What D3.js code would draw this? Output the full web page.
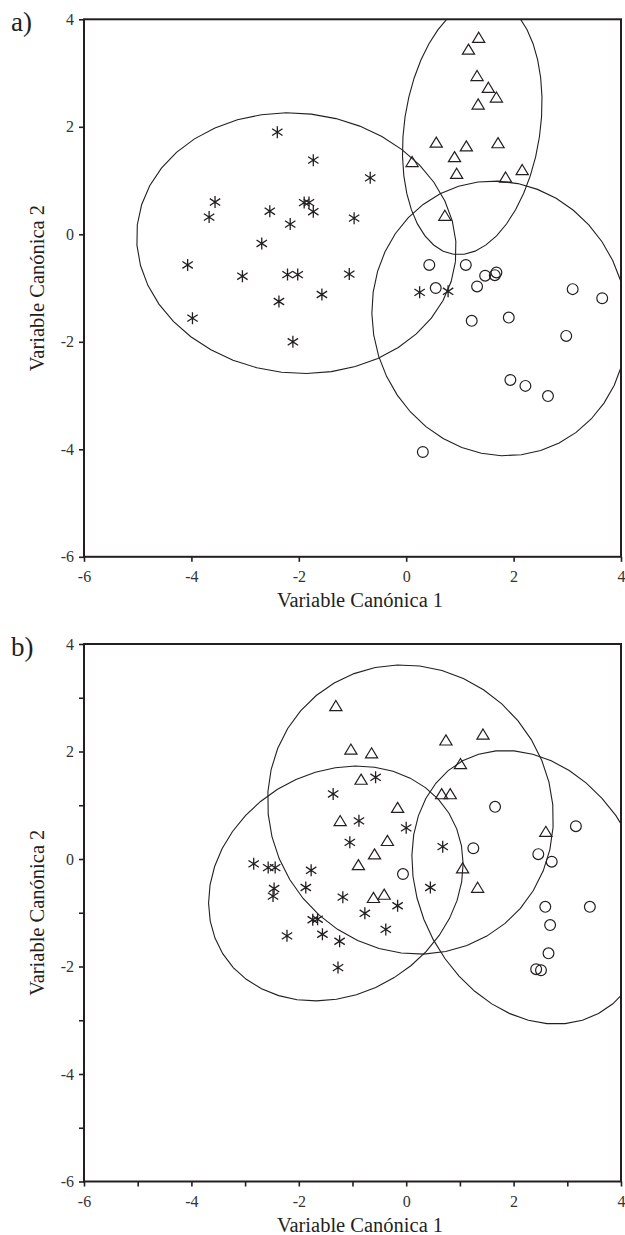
<!DOCTYPE html>
<html>
<head>
<meta charset="UTF-8">
<title>variables canonicas</title>
<script src="https://d3js.org/d3.v7.min.js"></script>
<style>
	body { margin: 0; background: #fff; }
	svg { display: block; font-family: "Liberation Serif", "Times New Roman", serif; }
	.tick line { stroke: #231f20; stroke-width: 1.6; }
</style>
</head>
<body>
<svg id="chart" width="625" height="1235"></svg>

<script type="text/javascript">

// ejes (iguales en los dos paneles)
var axisDomain = [-6, 4];
var tickLabels = [-6, -4, -2, 0, 2, 4];
var minorTicks = [-6, -5, -4, -3, -2, -1, 0, 1, 2, 3, 4];

// panel a) puntos [x, y]
var aStars = [
	[-2.40, 1.90], [-1.73, 1.38], [-0.67, 1.05], [-3.56, 0.60], [-3.67, 0.32],
	[-2.54, 0.43], [-2.16, 0.19], [-1.90, 0.59], [-1.81, 0.59], [-1.73, 0.42],
	[-0.97, 0.30], [-2.69, -0.17], [-4.07, -0.57], [-3.05, -0.78], [-2.21, -0.75],
	[-2.02, -0.75], [-1.06, -0.74], [-2.37, -1.25], [-1.57, -1.12], [-3.98, -1.56],
	[-2.11, -2.00], [0.25, -1.08], [0.78, -1.06]
];
var aTriangles = [
	[1.35, 3.66], [1.16, 3.44], [1.32, 2.95], [1.53, 2.73], [1.68, 2.55],
	[1.34, 2.42], [0.56, 1.71], [1.12, 1.64], [1.71, 1.70], [0.90, 1.44],
	[0.11, 1.35], [0.94, 1.13], [2.16, 1.20], [1.85, 1.06], [0.72, 0.35]
];
var aCircles = [
	[0.43, -0.57], [1.11, -0.57], [1.47, -0.77], [1.68, -0.71], [1.65, -0.76],
	[1.32, -0.97], [0.55, -1.00], [3.10, -1.02], [3.65, -1.19], [1.22, -1.61],
	[1.91, -1.55], [2.98, -1.89], [1.94, -2.71], [2.22, -2.82], [2.64, -3.01],
	[0.31, -4.05]
];
// elipses: [centro x, centro y, semieje a, semieje b, angulo (grados)]
var aEllipses = [
	[-2.045, -0.165, 2.982, 2.417, -6.6],
	[1.23, 2.00, 2.398, 1.265, 81.6],
	[1.74, -1.565, 2.574, 2.36, -72.7]
];

// panel b) puntos [x, y]
var bStars = [
	[-0.57, 1.52], [-1.36, 1.21], [-0.88, 0.71], [0.00, 0.58], [-1.05, 0.31],
	[0.68, 0.23], [-2.84, -0.09], [-2.57, -0.16], [-2.44, -0.16], [-1.77, -0.21],
	[-2.46, -0.55], [-2.48, -0.69], [-1.87, -0.53], [-1.18, -0.71], [-0.16, -0.87],
	[0.45, -0.53], [-0.77, -1.01], [-1.74, -1.13], [-1.65, -1.12], [-0.38, -1.31],
	[-2.22, -1.43], [-1.56, -1.40], [-1.24, -1.53], [-1.27, -2.02]
];
var bTriangles = [
	[-1.31, 2.85], [-1.03, 2.04], [-0.645, 1.97], [-0.84, 1.48], [0.74, 2.21],
	[1.43, 2.32], [1.01, 1.77], [0.66, 1.21], [0.82, 1.21], [-0.16, 0.955],
	[-1.23, 0.71], [-0.35, 0.34], [-0.59, 0.09], [-0.89, -0.11], [-0.61, -0.72],
	[-0.41, -0.66], [1.05, -0.17], [1.33, -0.53], [2.60, 0.51]
];
var bCircles = [
	[1.655, 0.97], [3.16, 0.61], [1.25, 0.20], [2.46, 0.09], [2.71, -0.05],
	[-0.06, -0.28], [2.59, -0.89], [3.42, -0.89], [2.68, -1.23], [2.65, -1.755],
	[2.42, -2.05], [2.51, -2.07]
];
var bEllipses = [
	[0.08, 0.92, 2.754, 2.595, -50.4],
	[-1.31, -0.455, 2.479, 2.061, 31.8],
	[2.315, -0.525, 2.670, 2.057, -61.7]
];

var ink = "#231f20";
var serif = "'Liberation Serif', 'Times New Roman', serif";
var svg = d3.select("#chart");

function styleAxis(s) {
	s.select(".domain").remove();
	s.attr("font-family", serif).attr("font-size", 16);
	s.selectAll(".tick text")
		.attr("font-family", serif)
		.attr("font-size", 16)
		.attr("fill", "#333");
}

function drawPanel(id, top, label, stars, triangles, circles, ellipses, ticks) {
	var left = 84, right = 621, bottom = top + 537.5;

	var x = d3.scaleLinear().domain(axisDomain).range([left, right]);
	var y = d3.scaleLinear().domain(axisDomain).range([bottom, top]);

	var g = svg.append("g").attr("id", id);

	g.append("clipPath").attr("id", id + "-clip")
		.append("rect")
		.attr("x", left).attr("y", top)
		.attr("width", right - left).attr("height", bottom - top);

	// ejes
	g.append("g")
		.attr("transform", "translate(0," + bottom + ")")
		.call(d3.axisBottom(x).tickValues(ticks).tickSize(5).tickSizeOuter(0).tickPadding(9)
			.tickFormat(function(d) { return d % 2 == 0 ? d : ""; }))
		.call(styleAxis);

	g.append("g")
		.attr("transform", "translate(" + left + ",0)")
		.call(d3.axisLeft(y).tickValues(ticks).tickSize(5).tickSizeOuter(0).tickPadding(5)
			.tickFormat(function(d) { return d % 2 == 0 ? d : ""; }))
		.call(styleAxis);

	// elipses
	var line = d3.line()
		.x(function(p) { return x(p[0]); })
		.y(function(p) { return y(p[1]); });

	var plot = g.append("g").attr("clip-path", "url(#" + id + "-clip)");

	ellipses.forEach(function(e) {
		var phi = e[4] * Math.PI / 180;
		var pts = d3.range(0, 41).map(function(i) {
			var t = i / 40 * 2 * Math.PI;
			return [
				e[0] + e[2] * Math.cos(t) * Math.cos(phi) - e[3] * Math.sin(t) * Math.sin(phi),
				e[1] + e[2] * Math.cos(t) * Math.sin(phi) + e[3] * Math.sin(t) * Math.cos(phi)
			];
		});
		plot.append("path")
			.attr("d", line(pts))
			.attr("fill", "none")
			.attr("stroke", ink)
			.attr("stroke-width", 1.1);
	});

	// puntos
	plot.selectAll(".circ").data(circles).enter().append("circle")
		.attr("cx", function(d) { return x(d[0]); })
		.attr("cy", function(d) { return y(d[1]); })
		.attr("r", 5.4)
		.attr("fill", "none")
		.attr("stroke", ink)
		.attr("stroke-width", 1.2);

	plot.selectAll(".tri").data(triangles).enter().append("path")
		.attr("transform", function(d) { return "translate(" + x(d[0]) + "," + y(d[1]) + ")"; })
		.attr("d", "M0,-5.3L6.1,4.8L-6.1,4.8Z")
		.attr("fill", "none")
		.attr("stroke", ink)
		.attr("stroke-width", 1.2);

	plot.selectAll(".star").data(stars).enter().append("path")
		.attr("transform", function(d) { return "translate(" + x(d[0]) + "," + y(d[1]) + ")"; })
		.attr("d", "M0,-6V6M-5.2,-3.4L5.2,3.4M-5.2,3.4L5.2,-3.4")
		.attr("fill", "none")
		.attr("stroke", ink)
		.attr("stroke-width", 1.3);

	// marco
	g.append("rect")
		.attr("x", left).attr("y", top)
		.attr("width", right - left).attr("height", bottom - top)
		.attr("fill", "none")
		.attr("stroke", ink)
		.attr("stroke-width", 2);

	// titulos
	g.append("text")
		.attr("x", 360).attr("y", bottom + 50)
		.attr("text-anchor", "middle")
		.attr("font-size", 20.5)
		.attr("fill", ink)
		.text("Variable Canónica 1");

	g.append("text")
		.attr("transform", "translate(44," + ((top + bottom) / 2) + ") rotate(-90)")
		.attr("text-anchor", "middle")
		.attr("font-size", 20.5)
		.attr("fill", ink)
		.text("Variable Canónica 2");

	g.append("text")
		.attr("x", 11).attr("y", top + 12)
		.attr("font-size", 27)
		.attr("fill", ink)
		.text(label);
}

drawPanel("panel-a", 19.3, "a)", aStars, aTriangles, aCircles, aEllipses, tickLabels);
drawPanel("panel-b", 644, "b)", bStars, bTriangles, bCircles, bEllipses, minorTicks);

</script>
</body>
</html>
